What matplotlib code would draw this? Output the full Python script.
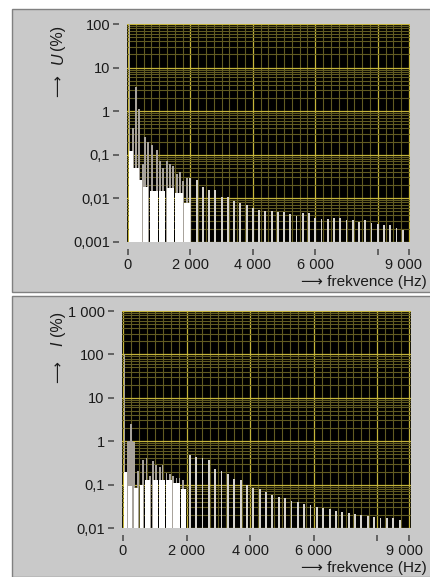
import matplotlib
matplotlib.use('Agg')
import matplotlib.pyplot as plt
from matplotlib.patches import Rectangle
from matplotlib.ticker import MultipleLocator, LogLocator, NullFormatter
from matplotlib.transforms import ScaledTranslation

plt.rcParams['font.family'] = ['Liberation Sans', 'DejaVu Sans']

# --- napeti U (%) ---
u_harm_f = [50, 150, 250, 350, 470, 550, 650, 770, 920, 1030, 1130, 1240, 1350, 1450, 1560, 1670, 1770, 1880]
u_harm_v = [100, 0.41, 3.5, 1.1, 0.06, 0.26, 0.2, 0.17, 0.13, 0.07, 0.05, 0.07, 0.06, 0.055, 0.035, 0.04, 0.025, 0.029]
u_high_f = [2000, 2200, 2400, 2600, 2800, 3000, 3200, 3400, 3600, 3800, 4000, 4200, 4400, 4600, 4800, 5000, 5200,
            5400, 5600, 5800, 6000, 6200, 6400, 6600, 6800, 7000, 7200, 7400, 7600, 7800, 8000, 8200, 8400, 8600, 8800]
u_high_v = [0.029, 0.0265, 0.0185, 0.0156, 0.0156, 0.0109, 0.0109, 0.0084, 0.0077, 0.0070, 0.0059, 0.0054,
            0.0052, 0.0052, 0.0049, 0.0048, 0.0043, 0.0039, 0.0045, 0.0045, 0.0035, 0.0034, 0.0033, 0.0035,
            0.0035, 0.0031, 0.0032, 0.0029, 0.0031, 0.0027, 0.0026, 0.0024, 0.0024, 0.0021, 0.0019]
u_white_lo = [30, 160, 350, 470, 690, 1000, 1260, 1520, 1810]
u_white_hi = [160, 350, 450, 650, 950, 1200, 1460, 1770, 1990]
u_white_v = [0.12, 0.049, 0.026, 0.018, 0.0143, 0.0143, 0.017, 0.013, 0.0077]
u_ticks = [0.001, 0.01, 0.1, 1, 10, 100]
u_labels = ['0,001', '0,01', '0,1', '1', '10', '100']

# --- proud I (%) ---
i_harm_f = [50, 150, 200, 250, 300, 350, 480, 635, 740, 845, 950, 1030, 1155, 1240, 1365, 1470, 1575, 1680, 1780, 1885]
i_harm_v = [100, 1.0, 1.0, 2.5, 1.0, 0.95, 0.21, 0.37, 0.40, 0.16, 0.35, 0.28, 0.26, 0.28, 0.19, 0.18, 0.16, 0.14, 0.14, 0.13]
i_high_f = [2100, 2300, 2500, 2700, 2900, 3100, 3300, 3500, 3700, 3900, 4100, 4300, 4500, 4700, 4900, 5100, 5300,
            5500, 5700, 5900, 6100, 6300, 6500, 6700, 6900, 7100, 7300, 7500, 7700, 7900, 8100, 8300, 8500, 8700]
i_high_v = [0.47, 0.43, 0.41, 0.36, 0.23, 0.21, 0.18, 0.137, 0.125, 0.096, 0.083, 0.080, 0.067, 0.058, 0.0515,
            0.049, 0.043, 0.040, 0.036, 0.034, 0.030, 0.029, 0.028, 0.025, 0.023, 0.022, 0.021, 0.020, 0.0187,
            0.0175, 0.0168, 0.0168, 0.0168, 0.0156]
i_white_lo = [30, 150, 360, 520, 680, 930, 1140, 1360, 1580, 1830]
i_white_hi = [130, 290, 480, 640, 860, 1110, 1330, 1550, 1790, 1975]
i_white_v = [0.2, 0.094, 0.085, 0.10, 0.128, 0.128, 0.13, 0.128, 0.11, 0.079]
i_ticks = [0.01, 0.1, 1, 10, 100, 1000]
i_labels = ['0,01', '0,1', '1', '10', '100', '1 000']

x_ticks = [0, 2000, 4000, 6000, 8000, 9000]
x_labels = ['0', '2 000', '4 000', '6 000', '', '9 000']

W, H = 431, 577
fig = plt.figure(figsize=(W / 100, H / 100), dpi=100)
fig.patch.set_facecolor('white')


def px(x0, y0, x1, y1):
    # pixel box (top-left origin) -> figure fraction rect
    return [x0 / W, 1 - y1 / H, (x1 - x0) / W, (y1 - y0) / H]


# grey panels
for (x0, y0, x1, y1) in [(12, 9, 431, 292), (12, 296, 431, 577)]:
    r = px(x0, y0, x1, y1)
    fig.add_artist(Rectangle((r[0], r[1]), r[2], r[3], transform=fig.transFigure,
                             facecolor='#c9c9c9', edgecolor='#808080', lw=1.0, zorder=0))


def spectrum(ax, hf, hv, ff, fv, wlo, whi, wv, ymin, ymax, yt, yl, xlim):
    ax.set_facecolor('black')
    ax.set_yscale('log')
    ax.bar(hf, [v - ymin for v in hv], bottom=ymin, width=55, color='#a8a39c', zorder=3)
    ax.bar(ff, [v - ymin for v in fv], bottom=ymin, width=60, color='#d6d3cd', zorder=3)
    ax.bar(wlo, [v - ymin for v in wv], bottom=ymin,
           width=[b - a for a, b in zip(wlo, whi)], align='edge', color='white', zorder=4)
    ax.set_xlim(*xlim)
    ax.set_ylim(ymin, ymax)

    ax.set_xticks(x_ticks, x_labels)
    ax.xaxis.set_minor_locator(MultipleLocator(250))
    ax.set_yticks(yt, yl)
    ax.yaxis.set_minor_locator(LogLocator(base=10, subs=range(2, 10)))
    ax.yaxis.set_minor_formatter(NullFormatter())

    ax.grid(which='minor', color='#615b22', lw=0.8, zorder=1)
    ax.grid(which='major', color='#c4b43a', lw=0.9, zorder=2)
    ax.xaxis.get_gridlines()[-1].set_visible(False)

    for s in ax.spines.values():
        s.set_visible(False)
    ax.spines['left'].set_position(('outward', 6))
    ax.spines['bottom'].set_position(('outward', 5))
    ax.tick_params(which='major', direction='out', length=4.5, width=1.3, color='#5a5a5a',
                   labelsize=10.5, labelcolor='#1a1a1a')
    ax.tick_params(axis='y', pad=2)
    ax.tick_params(axis='x', pad=2)
    ax.tick_params(which='minor', length=0)
    lab = ax.get_xticklabels()[-1]
    lab.set_transform(lab.get_transform() + ScaledTranslation(-5 / 100, 0, fig.dpi_scale_trans))


ax1 = fig.add_axes(px(127.5, 24, 410.5, 241.7))
spectrum(ax1, u_harm_f, u_harm_v, u_high_f, u_high_v, u_white_lo, u_white_hi, u_white_v,
         0.001, 100, u_ticks, u_labels, (-16, 9050))

ax2 = fig.add_axes(px(122, 311, 411, 528))
spectrum(ax2, i_harm_f, i_harm_v, i_high_f, i_high_v, i_white_lo, i_white_hi, i_white_v,
         0.01, 1000, i_ticks, i_labels, (-31, 9060))

# axis titles
arrow_font = dict(family=['DejaVu Sans'], fontsize=11, color='#1a1a1a')
for yc, sym in [(61, 'U'), (347, 'I')]:
    fig.text(58 / W, 1 - (yc + 25) / H, '\u27f6', rotation=90, ha='center', va='center', **arrow_font)
    fig.text(58 / W, 1 - (yc - 3) / H, sym, rotation=90, ha='center', va='center',
             fontsize=11.5, style='italic', color='#1a1a1a')
    fig.text(58 / W, 1 - (yc - 24) / H, '(%)', rotation=90, ha='center', va='center',
             fontsize=11.5, color='#1a1a1a')

for yc in [282, 568]:
    fig.text(427 / W, 1 - yc / H, '\u27f6 frekvence (Hz)', ha='right', va='center',
             fontsize=11, color='#1a1a1a')

fig.savefig('out.png', dpi=100, facecolor=fig.get_facecolor())
